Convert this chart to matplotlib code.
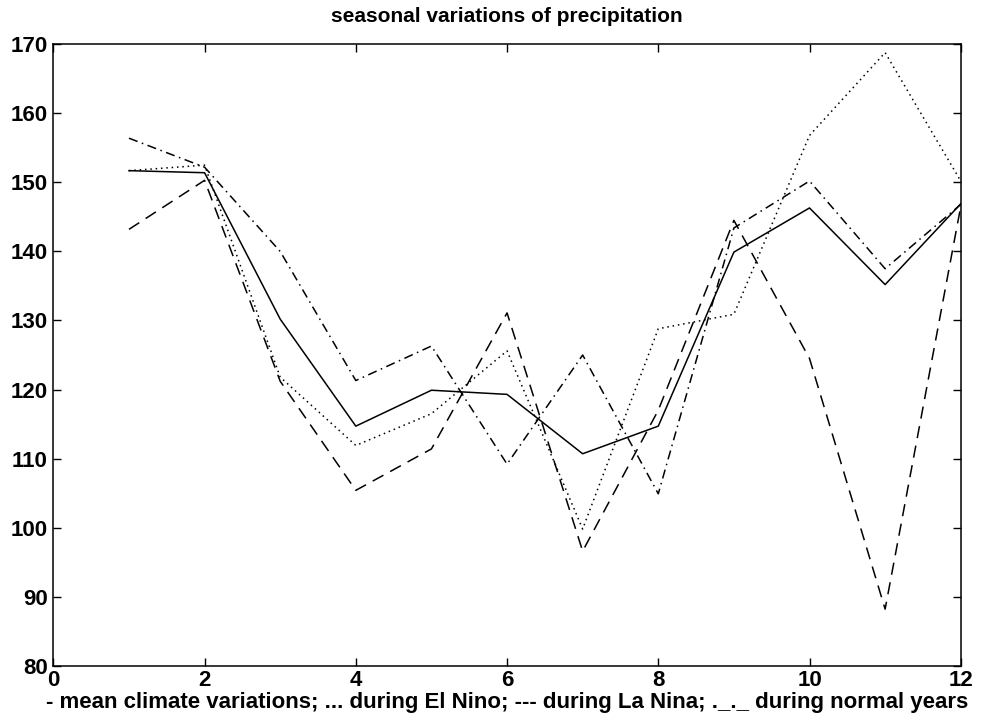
import matplotlib
matplotlib.use("Agg")
import matplotlib.pyplot as plt
import numpy as np

# monthly precipitation
months = np.arange(1, 13)
mean_climate = [151.7, 151.4, 130.2, 114.7, 119.9, 119.3, 110.7, 114.7, 139.9, 146.3, 135.2, 146.9]
el_nino = [151.7, 152.5, 121.8, 111.9, 116.5, 125.6, 99.8, 128.8, 130.9, 156.8, 168.8, 150.2]
la_nina = [143.2, 150.3, 121.2, 105.4, 111.4, 131.1, 96.6, 117.0, 144.5, 124.5, 88.2, 146.5]
normal_years = [156.4, 152.2, 140.0, 121.3, 126.3, 109.2, 125.0, 104.9, 143.4, 150.2, 137.5, 146.8]

plt.rcParams['font.family'] = ['Liberation Sans', 'DejaVu Sans']
plt.rcParams['font.weight'] = 'bold'

fig = plt.figure(figsize=(9.88, 7.18), dpi=100)
ax = fig.add_axes([0.054, 0.0728, 0.9184, 0.8655])

lw = 1.1
ax.plot(months, mean_climate, color='black', linestyle='-', linewidth=lw)
ax.plot(months, el_nino, color='black', linestyle=(0, (1, 2.5)), linewidth=lw)
ax.plot(months, la_nina, color='black', linestyle=(0, (8, 5)), linewidth=lw)
ax.plot(months, normal_years, color='black', linestyle=(0, (6, 3, 1, 3)), linewidth=lw)

ax.set_xlim(0, 12)
ax.set_ylim(80, 170)
ax.set_xticks(np.arange(0, 13, 2))
ax.set_yticks(np.arange(80, 171, 10))
ax.tick_params(direction='in', top=True, right=True, length=6, width=1, labelsize=16)
ax.tick_params(axis='x', pad=3)
ax.tick_params(axis='y', pad=4)
for side in ax.spines.values():
    side.set_linewidth(1.1)

ax.set_title('seasonal variations of precipitation', fontsize=15, fontweight='bold', pad=16)
ax.set_xlabel('- mean climate variations; ... during El Nino; --- during La Nina; ._._ during normal years',
              fontsize=16, fontweight='bold', labelpad=1)

fig.savefig('out.png', dpi=100)
